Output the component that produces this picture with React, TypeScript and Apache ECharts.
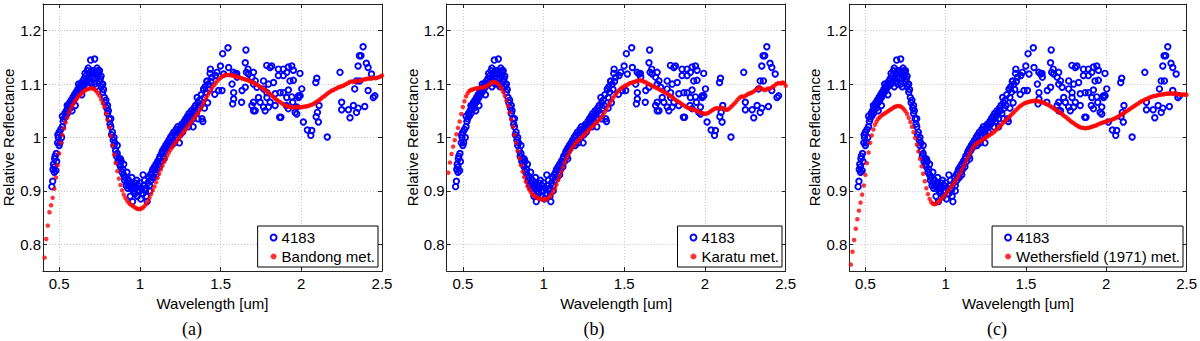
import React, { useEffect, useRef } from "react";
import * as echarts from "echarts";

// ---------- data ----------
// meteorite spectra sampled every 0.01 um starting at 0.41 um
const meteoriteStart = 0.41;
const meteoriteStep = 0.01;

const bandong = [
  0.775, 0.81, 0.835, 0.86, 0.873, 0.887, 0.904, 0.925, 0.948, 0.97,
  0.99, 1.005, 1.017, 1.028, 1.037, 1.046, 1.053, 1.059, 1.064, 1.069,
  1.073, 1.077, 1.08, 1.083, 1.086, 1.088, 1.09, 1.091, 1.092, 1.092,
  1.092, 1.09, 1.087, 1.083, 1.078, 1.071, 1.064, 1.057, 1.045, 1.033,
  1.019, 1.003, 0.985, 0.968, 0.952, 0.937, 0.923, 0.911, 0.901, 0.893,
  0.887, 0.882, 0.878, 0.875, 0.873, 0.871, 0.869, 0.867, 0.866, 0.866,
  0.867, 0.869, 0.872, 0.876, 0.881, 0.887, 0.894, 0.901, 0.908, 0.916,
  0.924, 0.932, 0.94, 0.947, 0.954, 0.96, 0.966, 0.972, 0.977, 0.982,
  0.986, 0.99, 0.994, 0.998, 1.002, 1.006, 1.01, 1.014, 1.018, 1.022,
  1.026, 1.03, 1.034, 1.038, 1.042, 1.046, 1.051, 1.056, 1.062, 1.068,
  1.074, 1.079, 1.084, 1.089, 1.094, 1.098, 1.102, 1.106, 1.109, 1.112,
  1.114, 1.116, 1.117, 1.117, 1.117, 1.117, 1.116, 1.116, 1.115, 1.114,
  1.113, 1.112, 1.111, 1.11, 1.109, 1.108, 1.107, 1.106, 1.104, 1.103,
  1.101, 1.1, 1.098, 1.096, 1.094, 1.092, 1.09, 1.088, 1.085, 1.083,
  1.08, 1.078, 1.075, 1.072, 1.07, 1.068, 1.066, 1.064, 1.062, 1.06,
  1.059, 1.058, 1.057, 1.057, 1.056, 1.056, 1.057, 1.057, 1.056, 1.057,
  1.057, 1.058, 1.058, 1.059, 1.06, 1.061, 1.062, 1.064, 1.066, 1.068,
  1.07, 1.072, 1.075, 1.077, 1.079, 1.082, 1.084, 1.086, 1.088, 1.089,
  1.091, 1.092, 1.094, 1.095, 1.096, 1.097, 1.099, 1.1, 1.102, 1.104,
  1.105, 1.105, 1.104, 1.105, 1.106, 1.107, 1.106, 1.108, 1.109, 1.109,
  1.11, 1.111, 1.11, 1.111, 1.112, 1.111, 1.112, 1.113, 1.114, 1.116,
];

const karatu = [
  0.934, 0.953, 0.969, 0.983, 0.995, 1.006, 1.018, 1.03, 1.044, 1.057,
  1.068, 1.077, 1.083, 1.087, 1.089, 1.09, 1.091, 1.092, 1.092, 1.093,
  1.093, 1.094, 1.094, 1.095, 1.097, 1.099, 1.101, 1.103, 1.104, 1.104,
  1.102, 1.1, 1.096, 1.091, 1.085, 1.078, 1.069, 1.059, 1.047, 1.034,
  1.02, 1.005, 0.99, 0.975, 0.961, 0.948, 0.936, 0.926, 0.917, 0.909,
  0.903, 0.898, 0.894, 0.891, 0.889, 0.887, 0.886, 0.885, 0.884, 0.884,
  0.884, 0.885, 0.887, 0.89, 0.894, 0.899, 0.905, 0.912, 0.92, 0.928,
  0.936, 0.944, 0.952, 0.959, 0.966, 0.972, 0.977, 0.982, 0.986, 0.99,
  0.993, 0.996, 0.999, 1.002, 1.005, 1.008, 1.011, 1.014, 1.017, 1.02,
  1.023, 1.026, 1.029, 1.032, 1.035, 1.039, 1.043, 1.048, 1.053, 1.059,
  1.064, 1.069, 1.074, 1.078, 1.082, 1.086, 1.089, 1.092, 1.094, 1.096,
  1.098, 1.099, 1.101, 1.102, 1.103, 1.104, 1.105, 1.106, 1.107, 1.107,
  1.106, 1.105, 1.104, 1.102, 1.1, 1.099, 1.097, 1.096, 1.094, 1.093,
  1.091, 1.09, 1.088, 1.086, 1.085, 1.083, 1.081, 1.079, 1.077, 1.075,
  1.072, 1.07, 1.068, 1.066, 1.064, 1.062, 1.06, 1.058, 1.056, 1.055,
  1.054, 1.053, 1.052, 1.051, 1.05, 1.049, 1.047, 1.046, 1.045, 1.044,
  1.045, 1.046, 1.048, 1.05, 1.052, 1.054, 1.055, 1.054, 1.055, 1.056,
  1.055, 1.053, 1.052, 1.052, 1.054, 1.057, 1.06, 1.063, 1.066, 1.07,
  1.073, 1.076, 1.077, 1.076, 1.078, 1.08, 1.082, 1.083, 1.084, 1.086,
  1.088, 1.09, 1.093, 1.094, 1.092, 1.09, 1.089, 1.09, 1.092, 1.091,
  1.093, 1.095, 1.097, 1.1, 1.101, 1.102, 1.101, 1.103, 1.102, 1.097,
];

const wethersfield = [
  0.762, 0.786, 0.808, 0.829, 0.847, 0.863, 0.878, 0.893, 0.91, 0.93,
  0.952, 0.972, 0.99, 1.004, 1.015, 1.024, 1.03, 1.035, 1.038, 1.041,
  1.043, 1.045, 1.047, 1.049, 1.051, 1.053, 1.055, 1.057, 1.058, 1.059,
  1.059, 1.058, 1.056, 1.053, 1.049, 1.044, 1.037, 1.029, 1.02, 1.01,
  0.999, 0.987, 0.974, 0.96, 0.946, 0.932, 0.918, 0.905, 0.894, 0.885,
  0.879, 0.876, 0.875, 0.876, 0.878, 0.881, 0.884, 0.887, 0.89, 0.894,
  0.898, 0.902, 0.906, 0.91, 0.914, 0.918, 0.923, 0.928, 0.933, 0.939,
  0.945, 0.951, 0.958, 0.964, 0.97, 0.976, 0.981, 0.985, 0.988, 0.99,
  0.992, 0.994, 0.996, 0.998, 1.0, 1.002, 1.004, 1.006, 1.008, 1.01,
  1.013, 1.016, 1.019, 1.022, 1.025, 1.028, 1.031, 1.034, 1.037, 1.04,
  1.043, 1.046, 1.049, 1.052, 1.055, 1.058, 1.06, 1.062, 1.064, 1.065,
  1.066, 1.067, 1.068, 1.068, 1.069, 1.069, 1.068, 1.068, 1.067, 1.066,
  1.065, 1.064, 1.062, 1.061, 1.059, 1.057, 1.055, 1.053, 1.051, 1.049,
  1.047, 1.045, 1.042, 1.04, 1.038, 1.035, 1.033, 1.03, 1.028, 1.026,
  1.024, 1.022, 1.02, 1.019, 1.018, 1.018, 1.017, 1.018, 1.018, 1.019,
  1.02, 1.021, 1.022, 1.023, 1.025, 1.026, 1.027, 1.028, 1.029, 1.03,
  1.031, 1.032, 1.033, 1.034, 1.035, 1.037, 1.038, 1.04, 1.042, 1.044,
  1.046, 1.048, 1.05, 1.052, 1.054, 1.056, 1.058, 1.06, 1.062, 1.064,
  1.066, 1.068, 1.069, 1.071, 1.072, 1.073, 1.075, 1.076, 1.077, 1.078,
  1.078, 1.079, 1.08, 1.08, 1.081, 1.081, 1.082, 1.082, 1.082, 1.083,
  1.082, 1.082, 1.083, 1.082, 1.081, 1.08, 1.08, 1.081, 1.08, 1.08,
];

// asteroid 4183 spectrum: [wavelength um, relative reflectance]
const asteroidVisible: [number, number][] = [
  [0.455, 0.908], [0.46, 0.918], [0.462, 0.94], [0.465, 0.95], [0.47, 0.945], [0.472, 0.96],
  [0.475, 0.965], [0.48, 0.938], [0.482, 0.97], [0.485, 0.955], [0.49, 0.99], [0.492, 1.005],
  [0.495, 1.0], [0.5, 1.01], [0.505, 0.99], [0.51, 1.015], [0.515, 1.0], [0.52, 1.02],
  [0.525, 1.03], [0.53, 1.035], [0.535, 1.045], [0.54, 1.04], [0.545, 1.05], [0.55, 1.045],
  [0.555, 1.055], [0.56, 1.06], [0.565, 1.065], [0.57, 1.055], [0.575, 1.07], [0.58, 1.065],
  [0.585, 1.075], [0.59, 1.07], [0.595, 1.08], [0.6, 1.075], [0.605, 1.085], [0.61, 1.08],
  [0.615, 1.09], [0.62, 1.085], [0.625, 1.095], [0.63, 1.09], [0.635, 1.1], [0.64, 1.095],
  [0.645, 1.105], [0.65, 1.1], [0.655, 1.11], [0.66, 1.1], [0.665, 1.115], [0.67, 1.105],
  [0.675, 1.125], [0.68, 1.11], [0.685, 1.12], [0.69, 1.105], [0.695, 1.145], [0.7, 1.115],
  [0.705, 1.12], [0.71, 1.11], [0.715, 1.125], [0.72, 1.147], [0.725, 1.12], [0.73, 1.11],
  [0.735, 1.13], [0.74, 1.115], [0.745, 1.12], [0.75, 1.105], [0.755, 1.11], [0.76, 1.095],
  [0.765, 1.1], [0.77, 1.085], [0.775, 1.09], [0.78, 1.075], [0.785, 1.065], [0.79, 1.07],
  [0.795, 1.055], [0.8, 1.045], [0.805, 1.05], [0.81, 1.035], [0.815, 1.025], [0.82, 1.02],
  [0.825, 1.005], [0.83, 1.01], [0.835, 0.995], [0.84, 0.985], [0.845, 0.99], [0.85, 0.975],
  [0.855, 0.965], [0.86, 0.97], [0.865, 0.955], [0.87, 0.96], [0.875, 0.95], [0.88, 0.945],
  [0.885, 0.955], [0.89, 0.935], [0.895, 0.94], [0.9, 0.93], [0.905, 0.92], [0.91, 0.925],
  [0.915, 0.91], [0.92, 0.915], [0.925, 0.905], [0.93, 0.92], [0.935, 0.91], [0.94, 0.89],
  [0.945, 0.905], [0.95, 0.915], [0.955, 0.88], [0.96, 0.9], [0.965, 0.91], [0.97, 0.895],
  [0.975, 0.905], [0.98, 0.92], [0.985, 0.89], [0.99, 0.91], [0.995, 0.9], [1.0, 0.915],
  [1.005, 0.885], [1.01, 0.905], [1.015, 0.895], [1.02, 0.93], [1.025, 0.91], [1.03, 0.92],
  [1.035, 0.9], [1.04, 0.89], [1.045, 0.88], [1.05, 0.915], [1.055, 0.925], [1.06, 0.91],
  [1.065, 0.93], [1.07, 0.92], [1.075, 0.935], [1.08, 0.94], [1.085, 0.925], [1.09, 0.945],
  [1.095, 0.935], [1.1, 0.95], [1.105, 0.94], [1.11, 0.955], [1.115, 0.95], [1.12, 0.96],
  [1.125, 0.965], [1.13, 0.955], [1.135, 0.97], [1.14, 0.975], [1.145, 0.965], [1.15, 0.98],
  [1.155, 0.975], [1.16, 0.985], [1.165, 0.98], [1.17, 0.99], [1.175, 0.985], [1.18, 0.995],
  [1.185, 0.99], [1.19, 1.0], [1.195, 0.985], [1.2, 1.005], [1.205, 0.995], [1.21, 1.01],
  [1.215, 0.99], [1.22, 1.005], [1.225, 1.015], [1.23, 1.0], [1.235, 1.02], [1.24, 1.01],
  [1.245, 0.99], [1.25, 1.015], [1.255, 1.02], [1.26, 1.025], [1.265, 1.01], [1.27, 1.02],
  [1.275, 1.03], [1.28, 1.025], [1.285, 1.035], [1.29, 1.03], [1.295, 1.04], [1.3, 1.035],
  [1.305, 1.045], [1.31, 1.03], [1.315, 1.04], [1.32, 1.05], [1.325, 1.045], [1.33, 1.035],
  [1.335, 1.055], [1.34, 1.05], [1.345, 1.06], [1.35, 1.045], [1.355, 1.075], [1.36, 1.065],
  [1.365, 1.055], [1.37, 1.07], [1.375, 1.06], [1.38, 1.08], [1.385, 1.035], [1.39, 1.03],
  [1.395, 1.09], [1.4, 1.075], [1.405, 1.095], [1.41, 1.085], [1.415, 1.105], [1.42, 1.065],
  [1.425, 1.1], [1.43, 1.09], [1.435, 1.12], [1.44, 1.105],
  [0.62, 1.1], [0.64, 1.08], [0.66, 1.12], [0.68, 1.13], [0.7, 1.1], [0.72, 1.1],
  [0.74, 1.125], [0.7, 1.125], [0.68, 1.095], [0.73, 1.095], [0.75, 1.125], [0.76, 1.115],
  [0.77, 1.1], [0.6, 1.06], [0.58, 1.05], [0.55, 1.06], [0.52, 1.04], [0.5, 0.985],
  [0.47, 0.935], [0.8, 1.06], [0.82, 1.035], [0.84, 1.0], [0.86, 0.985], [0.88, 0.96],
  [0.9, 0.95], [0.92, 0.935], [0.95, 0.925], [0.97, 0.915], [1.0, 0.9], [1.02, 0.895],
  [1.04, 0.905], [1.06, 0.9], [1.08, 0.925], [1.1, 0.93], [1.12, 0.945], [1.15, 0.96],
  [1.2, 0.99], [1.25, 1.005], [1.3, 1.02], [1.33, 1.02], [1.36, 1.035], [1.4, 1.055],
];

const asteroidInfrared: [number, number][] = [
  [1.396, 1.091], [1.417, 1.106], [1.437, 1.128], [1.447, 1.113], [1.464, 1.081], [1.468, 1.116],
  [1.478, 1.122], [1.488, 1.088], [1.499, 1.134], [1.509, 1.088], [1.513, 1.157], [1.519, 1.119],
  [1.546, 1.168], [1.55, 1.131], [1.571, 1.1], [1.575, 1.063], [1.58, 1.122], [1.581, 1.072],
  [1.581, 1.084], [1.591, 1.119], [1.6, 1.12], [1.602, 1.113], [1.63, 1.066], [1.633, 1.088],
  [1.653, 1.094], [1.653, 1.14], [1.657, 1.164], [1.66, 1.122], [1.67, 1.128], [1.673, 1.119],
  [1.694, 1.06], [1.694, 1.113], [1.704, 1.05], [1.704, 1.1], [1.704, 1.122], [1.704, 1.066],
  [1.715, 1.106], [1.715, 1.05], [1.725, 1.094], [1.735, 1.075], [1.745, 1.066], [1.766, 1.057],
  [1.766, 1.091], [1.766, 1.106], [1.776, 1.05], [1.786, 1.135], [1.787, 1.084], [1.787, 1.075],
  [1.797, 1.1], [1.797, 1.057], [1.807, 1.131], [1.807, 1.066], [1.817, 1.134], [1.828, 1.103],
  [1.838, 1.082], [1.838, 1.06], [1.858, 1.128], [1.858, 1.116], [1.866, 1.038], [1.869, 1.084],
  [1.874, 1.038], [1.889, 1.128], [1.889, 1.116], [1.889, 1.084], [1.907, 1.06], [1.91, 1.122],
  [1.91, 1.075], [1.92, 1.132], [1.92, 1.089], [1.92, 1.054], [1.93, 1.106], [1.941, 1.134],
  [1.941, 1.076], [1.947, 1.066], [1.951, 1.126], [1.951, 1.107], [1.962, 1.047], [1.972, 1.044],
  [1.972, 1.057], [1.982, 1.078], [1.983, 1.075], [1.992, 1.12], [1.993, 1.078], [2.003, 1.091],
  [2.013, 1.029], [2.038, 1.014], [2.059, 1.004], [2.065, 1.013], [2.09, 1.103], [2.092, 1.039],
  [2.096, 1.111], [2.1, 1.047], [2.106, 1.029], [2.11, 1.06], [2.161, 1.001], [2.24, 1.122],
  [2.25, 1.066], [2.25, 1.052], [2.292, 1.052], [2.302, 1.037], [2.323, 1.06], [2.331, 1.091],
  [2.342, 1.047], [2.342, 1.106], [2.352, 1.055], [2.352, 1.134], [2.36, 1.153], [2.362, 1.106],
  [2.37, 1.153], [2.383, 1.17], [2.393, 1.058], [2.403, 1.139], [2.414, 1.131], [2.414, 1.088],
  [2.435, 1.119], [2.446, 1.075], [2.456, 1.078],
];

const meteoriteNames = ["Bandong met.", "Karatu met.", "Wethersfield (1971) met."];
const meteoriteSpectra = [bandong, karatu, wethersfield];
const panelLabels = ["(a)", "(b)", "(c)"];
const asteroidName = "4183";

// ---------- layout ----------
const W = 1200;
const H = 341;
const gridLeft = [42.5, 446.7, 849.3];
const gridWidth = [339.5, 339, 338];
const gridTop = 4;
const gridHeight = 267;
const legendRight = [822, 418, 17];
const labelX = [192, 594, 997];
const FONT = '"Liberation Sans", Arial, Helvetica, sans-serif';

export default function App() {
  const ref = useRef<HTMLDivElement>(null);

  useEffect(() => {
    document.body.style.margin = "0";
    if (!ref.current) return;
    const chart = echarts.init(ref.current, null, { renderer: "svg" });

    const asteroid = [...asteroidVisible, ...asteroidInfrared];

    const grid: any[] = [];
    const xAxis: any[] = [];
    const yAxis: any[] = [];
    const series: any[] = [];
    const legend: any[] = [];
    const graphic: any[] = [];

    const lineColor = "#222";
    const gridLine = { show: true, lineStyle: { color: "#c4c4c4", type: [1, 2], width: 1 } };

    meteoriteSpectra.forEach((spec, i) => {
      grid.push({ left: gridLeft[i], top: gridTop, width: gridWidth[i], height: gridHeight });
      xAxis.push({
        gridIndex: i, type: "value", min: 0.4, max: 2.5, splitNumber: 4, position: "bottom",
        axisLine: { onZero: false, lineStyle: { color: lineColor, width: 1 } },
        axisTick: { inside: true, length: 4, lineStyle: { color: lineColor } },
        axisLabel: { color: "#000", fontSize: 15, fontFamily: FONT, margin: 5, showMinLabel: false },
        splitLine: gridLine,
        name: "Wavelength [um]", nameLocation: "middle", nameGap: 15,
        nameTextStyle: { color: "#000", fontSize: 15, fontFamily: FONT },
      });
      xAxis.push({
        gridIndex: i, type: "value", min: 0.4, max: 2.5, splitNumber: 4, position: "top",
        axisLine: { onZero: false, lineStyle: { color: lineColor, width: 1 } },
        axisTick: { inside: true, length: 4, lineStyle: { color: lineColor } },
        axisLabel: { show: false }, splitLine: { show: false },
      });
      yAxis.push({
        gridIndex: i, type: "value", min: 0.75, max: 1.25, splitNumber: 5, position: "left",
        axisLine: { onZero: false, lineStyle: { color: lineColor, width: 1 } },
        axisTick: { inside: true, length: 4, lineStyle: { color: lineColor } },
        axisLabel: { color: "#000", fontSize: 15, fontFamily: FONT, margin: 2, showMinLabel: false, showMaxLabel: false },
        splitLine: gridLine,
        name: "Relative Reflectance", nameLocation: "middle", nameGap: 27, nameRotate: 90,
        nameTextStyle: { color: "#000", fontSize: 15, fontFamily: FONT },
      });
      yAxis.push({
        gridIndex: i, type: "value", min: 0.75, max: 1.25, splitNumber: 5, position: "right",
        axisLine: { onZero: false, lineStyle: { color: lineColor, width: 1 } },
        axisTick: { inside: true, length: 4, lineStyle: { color: lineColor } },
        axisLabel: { show: false }, splitLine: { show: false },
      });

      series.push({
        type: "scatter", name: asteroidName, xAxisIndex: 2 * i, yAxisIndex: 2 * i,
        data: asteroid, symbol: "circle", symbolSize: 5.5,
        itemStyle: { color: "rgba(0,0,0,0)", borderColor: "#0000ff", borderWidth: 1.9, opacity: 1 },
        z: 2, silent: true,
      });
      series.push({
        type: "scatter", name: meteoriteNames[i], xAxisIndex: 2 * i, yAxisIndex: 2 * i,
        data: spec.map((v, k) => [Number((meteoriteStart + k * meteoriteStep).toFixed(2)), v]),
        symbol: "circle", symbolSize: 4.5,
        itemStyle: { color: "#ff0000" },
        z: 3, silent: true,
      });

      legend.push({
        right: legendRight[i], bottom: 74, orient: "vertical",
        data: [
          { name: asteroidName, icon: "circle", itemStyle: { color: "#fff", borderColor: "#0000ff", borderWidth: 1.9 } },
          { name: meteoriteNames[i], icon: "circle", itemStyle: { color: "#ff0000", borderWidth: 0 } },
        ],
        itemWidth: 6, itemHeight: 6, itemGap: 4, itemTextGap: 10,
        padding: [4, 3, 3, 12],
        borderColor: "#000", borderWidth: 1, backgroundColor: "#fff", borderRadius: 0,
        textStyle: { color: "#000", fontSize: 15, fontFamily: FONT },
        selectedMode: false, z: 10,
      });

      graphic.push({
        type: "text", x: labelX[i], y: 329,
        style: { text: panelLabels[i], font: '18px "Liberation Serif", "Times New Roman", serif', fill: "#000", textAlign: "center", textVerticalAlign: "middle" },
      });
    });

    chart.setOption({
      animation: false,
      backgroundColor: "#fff",
      grid, xAxis, yAxis, series, legend, graphic,
    });

    return () => chart.dispose();
  }, []);

  return <div ref={ref} style={{ width: W, height: H }} />;
}
